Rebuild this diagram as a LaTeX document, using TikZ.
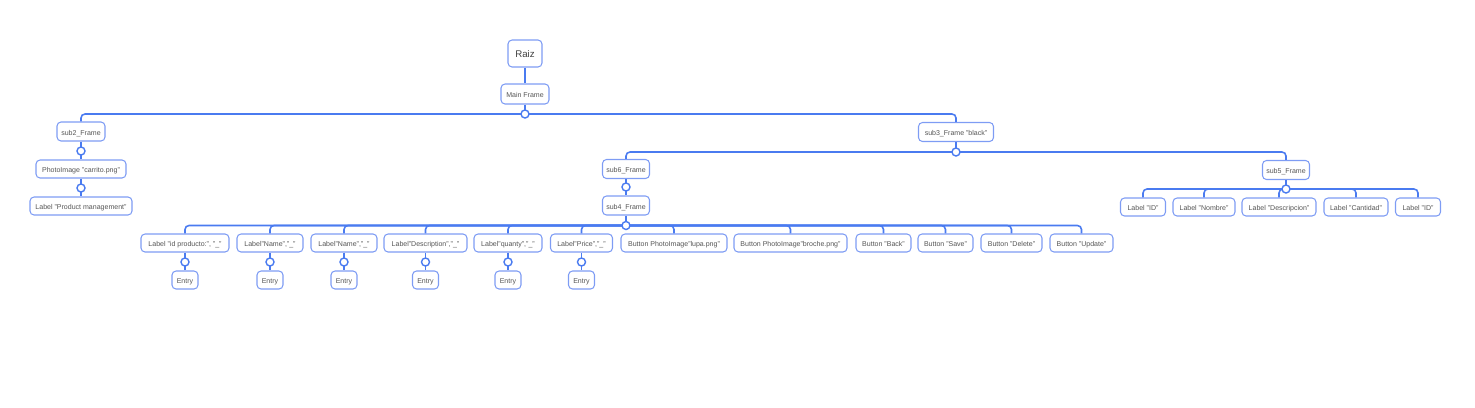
\documentclass[tikz,border=0pt]{standalone}
\usepackage{fontspec}
\setmainfont{Liberation Sans}
\definecolor{linkblue}{HTML}{4A7BF0}
\definecolor{boxblue}{HTML}{7E9CF4}
\definecolor{txtgray}{HTML}{555555}

\begin{document}
\begin{tikzpicture}[x=0.02cm,y=-0.02cm]

        % 定义样式
        \tikzstyle{box} = [rectangle, rounded corners=0.08cm, minimum height=0.36cm, inner sep=0pt, text centered, text height=1.1ex, text depth=0.3ex, draw=boxblue, line width=0.6pt, fill=white, text=txtgray, font=\fontsize{4}{5}\selectfont]
        \tikzstyle{link} = [draw=linkblue, line width=0.9pt, rounded corners=0.08cm]
        \tikzstyle{dot} = [circle, minimum size=0.16cm, inner sep=0pt, draw=linkblue, line width=0.8pt, fill=white]
        \tikzset{wd/.style={minimum width=#1*0.02cm}}

        \useasboundingbox (0,0) rectangle (1475,407);

        % 创建节点
        \node (raiz) [box, wd=34, minimum height=0.54cm, text=black!75, font=\fontsize{5.5}{7}\selectfont] at (525,53.5) {Raiz};
        \node (main) [box, wd=48, minimum height=0.4cm] at (525,94) {Main Frame};

        \node (sub2) [box, wd=48, minimum height=0.38cm] at (81,131.5) {sub2\_Frame};
        \node (photo) [box, wd=90] at (81,169) {PhotoImage "carrito.png"};
        \node (title) [box, wd=102] at (81,206) {Label "Product management"};

        \node (sub3) [box, wd=75, minimum height=0.38cm] at (956,132) {sub3\_Frame "black"};
        \node (sub6) [box, wd=47, minimum height=0.38cm] at (626,169) {sub6\_Frame};
        \node (sub4) [box, wd=47, minimum height=0.38cm] at (626,205.5) {sub4\_Frame};
        \node (sub5) [box, wd=47, minimum height=0.38cm] at (1286,170) {sub5\_Frame};

        \node (lid) [box, wd=88] at (185,243) {Label "id producto:", "\_"};
        \node (lname) [box, wd=66] at (270,243) {Label"Name","\_"};
        \node (lnamb) [box, wd=66] at (344,243) {Label"Name","\_"};
        \node (ldesc) [box, wd=83] at (425.5,243) {Label"Description","\_"};
        \node (lqty) [box, wd=68] at (508,243) {Label"quanty","\_"};
        \node (lprice) [box, wd=62] at (581.5,243) {Label"Price","\_"};
        \node (blupa) [box, wd=106] at (674,243) {Button PhotoImage"lupa.png"};
        \node (bbroche) [box, wd=113] at (790.5,243) {Button PhotoImage"broche.png"};
        \node (bback) [box, wd=55] at (883.5,243) {Button "Back"};
        \node (bsave) [box, wd=55] at (945.5,243) {Button "Save"};
        \node (bdelete) [box, wd=61] at (1011.5,243) {Button "Delete"};
        \node (bupdate) [box, wd=63] at (1081.5,243) {Button "Update"};

        \node (eid) [box, wd=26] at (185,280) {Entry};
        \node (ename) [box, wd=26] at (270,280) {Entry};
        \node (enamb) [box, wd=26] at (344,280) {Entry};
        \node (edesc) [box, wd=26] at (425.5,280) {Entry};
        \node (eqty) [box, wd=26] at (508,280) {Entry};
        \node (eprice) [box, wd=26] at (581.5,280) {Entry};

        \node (rid) [box, wd=45] at (1143,207) {Label "ID"};
        \node (rnom) [box, wd=62] at (1204,207) {Label "Nombre"};
        \node (rdesc) [box, wd=74] at (1279,207) {Label "Descripcion"};
        \node (rcant) [box, wd=64] at (1356,207) {Label "Cantidad"};
        \node (ridb) [box, wd=45] at (1418,207) {Label "ID"};

        % 连接节点
        \coordinate (j0) at (525,114);
        \coordinate (j1) at (81,151);
        \coordinate (j2) at (81,188);
        \coordinate (j3) at (956,152);
        \coordinate (j4) at (626,187);
        \coordinate (j5) at (626,225.5);
        \coordinate (j6) at (1286,189);

        \draw [link] (raiz) -- (main);
        \draw [link] (main) -- (j0);
        \draw [link] (j0) -| (sub2);
        \draw [link] (j0) -| (sub3);
        \draw [link] (sub2) -- (photo);
        \draw [link] (photo) -- (title);
        \draw [link] (sub3) -- (j3);
        \draw [link] (j3) -| (sub6);
        \draw [link] (j3) -| (sub5);
        \draw [link] (sub6) -- (sub4);
        \draw [link] (sub4) -- (j5);
        \foreach \n in {lid,lname,lnamb,ldesc,lqty,lprice,blupa,bbroche,bback,bsave,bdelete,bupdate}
            \draw [link] (j5) -| (\n);
        \foreach \l/\e in {lid/eid,lname/ename,lnamb/enamb,ldesc/edesc,lqty/eqty,lprice/eprice} {
            \draw [link] (\l) -- (\e);
            \node [dot] at (\l |- 0,262) {};
        }
        \draw [link] (sub5) -- (j6);
        \foreach \n in {rid,rnom,rdesc,rcant,ridb}
            \draw [link] (j6) -| (\n);

        \foreach \j in {j0,j1,j2,j3,j4,j5,j6}
            \node [dot] at (\j) {};

    \end{tikzpicture}
\end{document}
